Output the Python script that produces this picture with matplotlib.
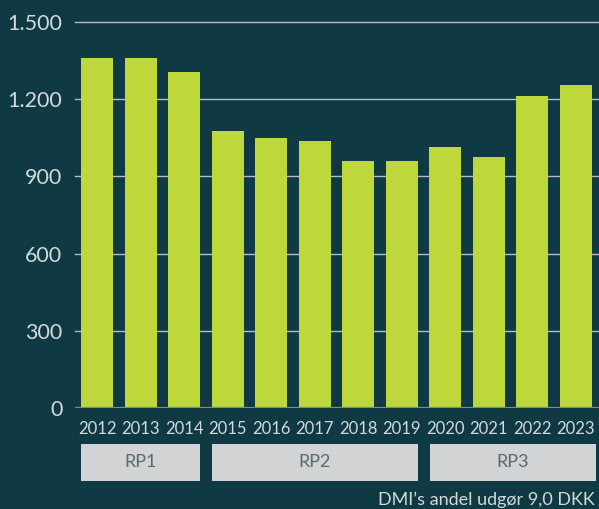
import numpy as np
import matplotlib
matplotlib.use('Agg')
import matplotlib.pyplot as plt
from matplotlib.patches import Rectangle
from matplotlib.ticker import FuncFormatter
import matplotlib.transforms as mtransforms

# data
years = ['2012', '2013', '2014', '2015', '2016', '2017',
         '2018', '2019', '2020', '2021', '2022', '2023']
values = [1360, 1360, 1306, 1076, 1049, 1038, 960, 960, 1014, 975, 1213, 1255]
yticks = [0, 300, 600, 900, 1200, 1500]
periods = ['RP1', 'RP2', 'RP3']
period_first = [0, 3, 8]
period_last = [2, 7, 11]
footnote = 'DMI\u2019s andel udgør 9,0 DKK'

bg = '#0f3a43'
bar_color = '#bed73b'
grid_color = '#b4bcbf'
text_color = '#d3d9db'
box_color = '#d1d3d4'
box_text = '#5a6a70'

plt.rcParams['font.family'] = ['Lato', 'DejaVu Sans']

fig = plt.figure(figsize=(5.99, 5.09), dpi=100, facecolor=bg)
ax = fig.add_axes([75 / 599, 101 / 509, 524 / 599, 386 / 509])
ax.set_facecolor(bg)

x = np.arange(len(years))
ax.bar(x, values, width=0.735, color=bar_color, zorder=3)

ax.set_xlim(-0.505, 11.53)
ax.set_ylim(0, 1500)

# horizontal grid
for t in yticks[1:]:
    ax.axhline(t, color=grid_color, lw=1.0, zorder=1, clip_on=False)
ax.axhline(0, color='#7f8a8d', lw=1.6, zorder=4)

for s in ax.spines.values():
    s.set_visible(False)

ax.set_yticks(yticks)
ax.yaxis.set_major_formatter(FuncFormatter(lambda v, p: f'{int(v):,}'.replace(',', '.')))
ax.tick_params(axis='y', length=0, pad=9, labelsize=15.5, labelcolor=text_color)

ax.set_xticks(x)
ax.set_xticklabels(years)
ax.tick_params(axis='x', which='major', length=0, pad=9, labelsize=12, labelcolor=text_color)
# small ticks between bars
ax.set_xticks(np.arange(-0.5, 12, 1.0), minor=True)
ax.tick_params(axis='x', which='minor', direction='in', length=4, width=1,
               color='#1e2a2e')

# regulatory period boxes
trans = mtransforms.blended_transform_factory(ax.transData, ax.transAxes)
for i, (name, a, b) in enumerate(zip(periods, period_first, period_last)):
    left = a - 0.36
    right = 11.46 if i == len(periods) - 1 else b + 0.37
    ax.add_patch(Rectangle((left, -0.189), right - left, 0.096, transform=trans,
                           facecolor=box_color, edgecolor='none', clip_on=False))
    ax.text((left + right) / 2, -0.141, name, transform=trans, ha='center', va='center',
            fontsize=13, color=box_text)

fig.text(595 / 599, 4 / 509, footnote, ha='right', va='baseline', fontsize=13,
         color=text_color)

fig.savefig('out.png', dpi=100, facecolor=bg)
